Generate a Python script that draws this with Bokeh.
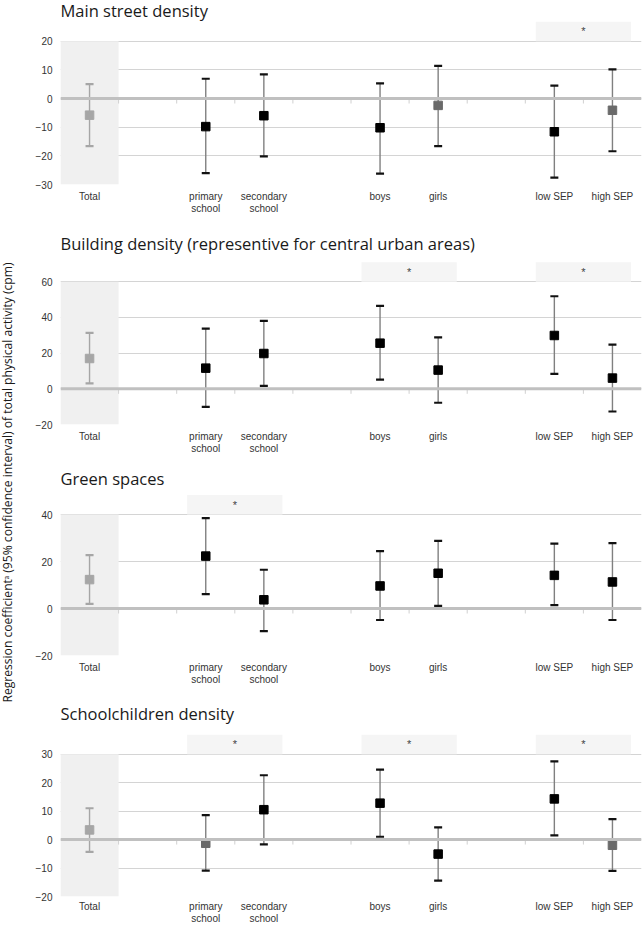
import math
from bokeh.plotting import figure
from bokeh.models import FixedTicker, Span, ColumnDataSource
from bokeh.layouts import row, column
from bokeh.embed import file_html
from bokeh.resources import INLINE
from bokeh.core.properties import value

# ---------------- data ----------------
categories = ["Total", "primary school", "secondary school", "boys", "girls", "low SEP", "high SEP"]
cat_labels = ["Total", "primary\nschool", "secondary\nschool", "boys", "girls", "low SEP", "high SEP"]
cat_pos = [0, 2, 3, 5, 6, 8, 9]
groups = {"school": (2, 3), "sex": (5, 6), "SEP": (8, 9)}

y_label = "Regression coefficient\u1d43 (95% confidence interval) of total physical activity (cpm)"

titles = ["Main street density",
          "Building density (representive for central urban areas)",
          "Green spaces",
          "Schoolchildren density"]

main_est = [-5.8, -9.8, -6.0, -10.2, -2.4, -11.6, -4.1]
main_lo = [-16.6, -26.0, -20.2, -26.2, -16.6, -27.6, -18.4]
main_hi = [5.0, 6.9, 8.4, 5.3, 11.4, 4.5, 10.2]
main_ticks = [-30, -20, -10, 0, 10, 20]
main_sig = ["SEP"]

building_est = [17.0, 11.6, 19.8, 25.6, 10.5, 29.9, 6.0]
building_lo = [3.0, -10.1, 1.7, 5.2, -7.8, 8.4, -12.7]
building_hi = [31.4, 33.8, 38.1, 46.5, 28.8, 51.9, 24.8]
building_ticks = [-20, 0, 20, 40, 60]
building_sig = ["sex", "SEP"]

green_est = [12.3, 22.3, 3.7, 9.6, 15.0, 14.1, 11.3]
green_lo = [2.0, 6.1, -9.6, -4.9, 1.1, 1.4, -4.9]
green_hi = [22.7, 38.5, 16.5, 24.4, 28.8, 27.6, 27.8]
green_ticks = [-20, 0, 20, 40]
green_sig = ["school"]

school_est = [3.4, -1.3, 10.5, 12.8, -5.1, 14.3, -2.0]
school_lo = [-4.3, -10.9, -1.7, 1.0, -14.4, 1.5, -11.0]
school_hi = [11.0, 8.6, 22.6, 24.6, 4.3, 27.5, 7.2]
school_ticks = [-20, -10, 0, 10, 20, 30]
school_sig = ["school", "sex", "SEP"]

panels = [
    (titles[0], main_est, main_lo, main_hi, main_ticks, main_sig),
    (titles[1], building_est, building_lo, building_hi, building_ticks, building_sig),
    (titles[2], green_est, green_lo, green_hi, green_ticks, green_sig),
    (titles[3], school_est, school_lo, school_hi, school_ticks, school_sig),
]

# ---------------- layout (page pixels) ----------------
# (figure top, figure bottom, top gridline, bottom gridline, title centre, label standoff)
layout = [(0, 220, 40.7, 184, 10, 6),
          (220, 456, 281.3, 424, 242.7, 6),
          (456, 692, 514, 655, 477.7, 6),
          (692, 926, 754, 897, 713, 4)]
STAR_PX = 19.5
LAB_W = 16
PANEL_W = 628
LEFT = 44
RIGHT = 3

TICK_FONT = "Liberation Sans"

figs = []
for (title, est, lo, hi, ticks, sig), (ftop, fbot, gtop, gbot, tcen, stdoff) in zip(panels, layout):
    ymin, ymax = min(ticks), max(ticks)
    h = fbot - ftop
    bb = fbot - gbot
    upp = (ymax - ymin) / (gbot - gtop)          # data units per pixel
    yend = ymax + (gtop - ftop) * upp
    p = figure(width=PANEL_W, height=h, x_range=(-0.5, 9.5), y_range=(ymin, yend),
               output_backend="svg", toolbar_location=None,
               min_border_left=LEFT, min_border_right=RIGHT,
               min_border_top=0, min_border_bottom=bb)
    p.outline_line_color = None
    p.background_fill_color = "white"
    p.border_fill_color = "white"

    # axes
    p.xaxis.ticker = FixedTicker(ticks=cat_pos)
    p.xaxis.major_label_overrides = {c: l for c, l in zip(cat_pos, cat_labels)}
    p.xaxis.axis_line_color = None
    p.xaxis.major_tick_line_color = None
    p.xaxis.minor_tick_line_color = None
    p.xaxis.major_tick_out = 0
    p.xaxis.major_tick_in = 0
    p.xaxis.minor_tick_out = 0
    p.xaxis.major_label_standoff = stdoff
    p.xaxis.major_label_text_font = TICK_FONT
    p.xaxis.major_label_text_font_size = "10px"
    p.xaxis.major_label_text_color = "#333333"
    p.xaxis.major_label_text_line_height = 1.12
    p.xgrid.visible = False

    p.yaxis.ticker = FixedTicker(ticks=ticks)
    p.yaxis.axis_line_color = None
    p.yaxis.major_tick_line_color = None
    p.yaxis.minor_tick_line_color = None
    p.yaxis.major_tick_out = 0
    p.yaxis.major_tick_in = 0
    p.yaxis.minor_tick_out = 0
    p.yaxis.major_label_standoff = 8
    p.yaxis.major_label_text_font = TICK_FONT
    p.yaxis.major_label_text_font_size = "10px"
    p.yaxis.major_label_text_color = "#333333"
    p.ygrid.ticker = FixedTicker(ticks=ticks)
    p.ygrid.grid_line_color = "#d4d4d4"
    p.ygrid.grid_line_width = 1

    # shaded Total band
    p.quad(left=[cat_pos[0] - 0.5], right=[cat_pos[0] + 0.5], bottom=[ymin], top=[ymax],
           fill_color="#f0f0f0", line_color=None)

    # significance boxes
    for g in sig:
        a, b = groups[g]
        cx = (a + b) / 2
        p.quad(left=[cx - 0.82], right=[cx + 0.82], bottom=[ymax], top=[ymax + STAR_PX * upp],
               fill_color="#f5f5f5", line_color=None)
        p.text(x=[cx], y=[ymax + STAR_PX * upp / 2], text=["*"], text_align="center",
               text_baseline="middle", text_font=value("Liberation Sans"),
               text_font_size="11px", text_color="#444444")

    # panel title (inside the extended frame, left-aligned with the frame)
    p.text(x=[-0.5], y=[ymax + (gtop - tcen) * upp], text=[title], text_align="left",
           text_baseline="middle", text_font=value("Open Sans"), text_font_size="16.5px",
           text_color="#1a1a1a")

    # zero line with small ticks at band boundaries
    p.add_layout(Span(location=0, dimension="width", line_color="#c0c0c0", line_width=3))
    bounds = [i + 0.5 for i in range(9)]
    p.segment(x0=bounds, y0=[0] * 9, x1=bounds, y1=[-5 * upp] * 9,
              line_color="#d0d0d0", line_width=1)

    # error bars
    stem_col = ["#a6a6a6" if c == 0 else "#808080" for c in cat_pos]
    cap_col = ["#a6a6a6" if c == 0 else "#111111" for c in cat_pos]
    mk_col = []
    for c, e in zip(cat_pos, est):
        if c == 0:
            mk_col.append("#a6a6a6")
        elif e < 0 and (-e / upp) < 12:
            mk_col.append("#6a6a6a")
        else:
            mk_col.append("#000000")
    src = ColumnDataSource(dict(x=cat_pos, est=est, lo=lo, hi=hi,
                                stem=stem_col, cap=cap_col, mk=mk_col))
    p.segment(x0="x", y0="lo", x1="x", y1="hi", line_color="stem", line_width=1.4, source=src)
    p.scatter(x="x", y="lo", marker="dash", size=8, line_width=2.2, line_color="cap", source=src)
    p.scatter(x="x", y="hi", marker="dash", size=8, line_width=2.2, line_color="cap", source=src)
    p.scatter(x="x", y="est", marker="square", size=8.5, fill_color="mk", line_color="mk", source=src)
    figs.append(p)

total_h = layout[-1][1]
lab = figure(width=LAB_W, height=total_h, x_range=(0, 1), y_range=(0, total_h),
             output_backend="svg", toolbar_location=None, x_axis_type=None, y_axis_type=None,
             min_border=0)
lab.outline_line_color = None
lab.grid.visible = False
lab.text(x=[0.45], y=[total_h - 482], text=[y_label], angle=math.pi / 2,
         text_align="center", text_baseline="middle", text_font=value("Open Sans"),
         text_font_size="12.1px", text_color="#1a1a1a")

layout_root = row(lab, column(*figs, spacing=0), spacing=0)
open("out.html", "w").write(file_html(layout_root, INLINE))
